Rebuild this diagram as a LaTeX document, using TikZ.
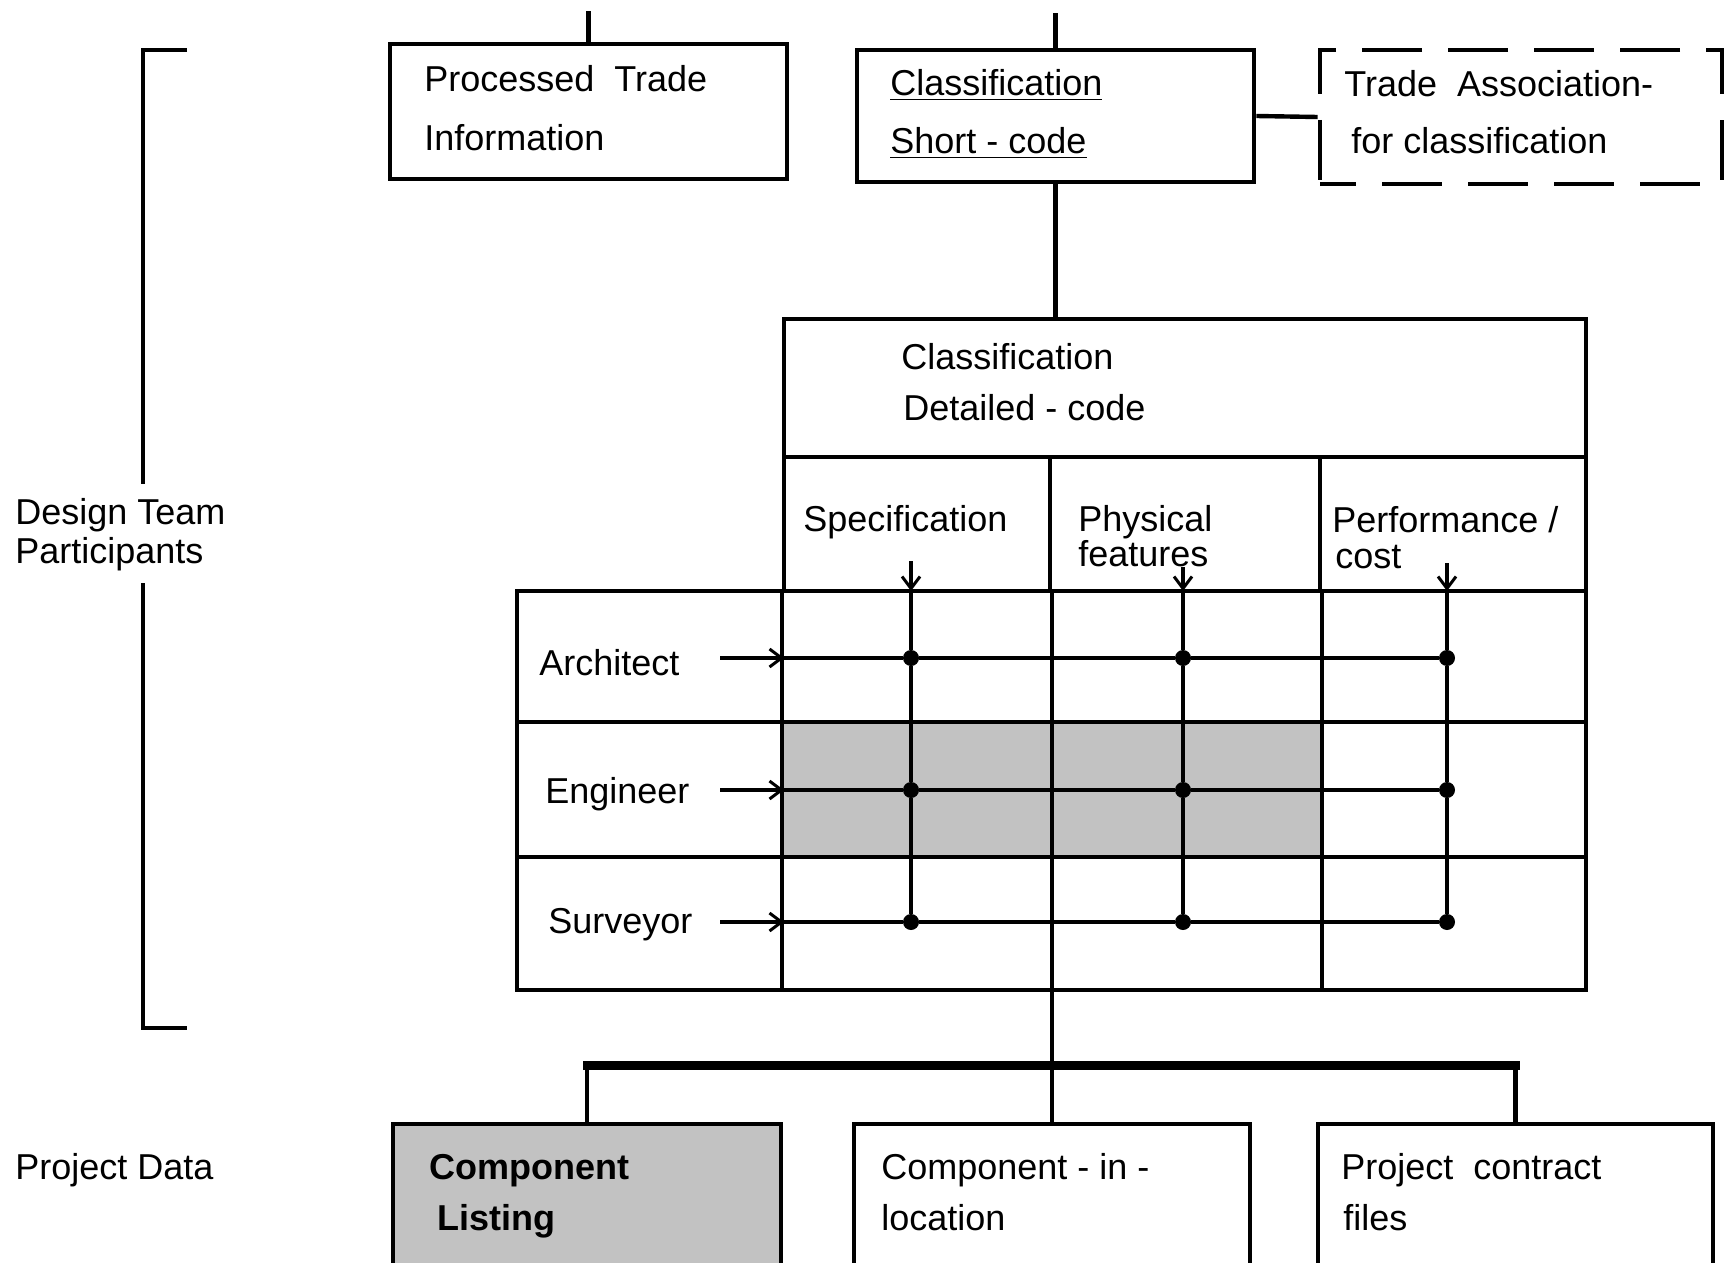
\documentclass[tikz,border=0pt]{standalone}
\usepackage{fontspec}
\setmainfont{Liberation Sans}
\usetikzlibrary{fit,arrows.meta}
\begin{document}
\begin{tikzpicture}[x=0.5pt,y=-0.5pt,
  box/.style={draw, line width=2.3pt, inner sep=0pt},
  dbox/.style={draw, line width=2.3pt, inner sep=0pt, dash pattern=on 30pt off 13pt, dash phase=12pt},
  lbl/.style={anchor=base west, inner sep=0pt, font=\fontsize{18}{20}\selectfont},
  blbl/.style={lbl, font=\fontsize{18}{20}\selectfont\bfseries},
  grid/.style={line width=2pt},
  conn/.style={line width=2.2pt},
  bus/.style={line width=4.5pt, line cap=rect},
  flow/.style={line width=1.6pt},
  flowb/.style={line width=2.4pt},
  arr/.style={line width=1.6pt, -{Straight Barb[length=6pt,width=9pt,line width=1.5pt]}},
  dot/.style={circle, fill=black, inner sep=0pt, minimum size=8pt},
  shadefill/.style={fill=black!24},
  brk/.style={line width=1.6pt}
]
\useasboundingbox (0,0) rectangle (1725,1263);
\clip (0,0) rectangle (1725,1263);
\fill[white] (0,0) rectangle (1725,1263);

% shaded region of the matrix
\fill[shadefill] (784,722) rectangle (1320,857);

% top boxes
\node[box, fit={(390,44)(787,179)}] (pti) {};
\node[box, fit={(857,50)(1254,182)}] (csc) {};
\node[dbox, fit={(1320,50)(1722,184)}] (ta) {};

% classification detailed-code box and column heads
\node[box, fit={(784,319)(1586,457)}] (hdr) {};
\node[box, fit={(784,457)(1050,591)}] (spec) {};
\node[box, fit={(1050,457)(1320,591)}] (phys) {};
\node[box, fit={(1320,457)(1586,591)}] (perf) {};

% rows
\node[box, fit={(517,591)(1586,722)}] (arch) {};
\node[box, fit={(517,722)(1586,857)}] (eng) {};
\node[box, fit={(517,857)(1586,990)}] (surv) {};

% column dividers through the rows
\draw[grid] (spec.south west) -- (spec.south west |- surv.south);
\draw[grid] (spec.south east) -- (spec.south east |- surv.south);
\draw[grid] (phys.south east) -- (phys.south east |- surv.south);

% bottom boxes
\node[box, shadefill, fit={(393,1124)(781,1300)}] (cl) {};
\node[box, fit={(854,1124)(1250,1300)}] (cil) {};
\node[box, fit={(1318,1124)(1713,1300)}] (pcf) {};

% texts
\node[lbl] at (424,92) {Processed\ \ Trade};
\node[lbl] at (424,150) {Information};
\node[lbl] at (890,96) {\underline{Classification}};
\node[lbl] at (890,154) {\underline{Short - code}};
\node[lbl] at (1344,97) {Trade\ \ Association-};
\node[lbl] at (1351,154) {for classification};
\node[lbl] at (901,369) {Classification};
\node[lbl] at (903,420) {Detailed - code};
\node[lbl] at (803,531) {Specification};
\node[lbl] at (1078,531) {Physical};
\node[lbl] at (1078,566) {features};
\node[lbl] at (1332,532) {Performance /};
\node[lbl] at (1335,568) {cost};
\node[lbl] at (539,675) {Architect};
\node[lbl] at (545,803) {Engineer};
\node[lbl] at (548,933) {Surveyor};
\node[lbl] at (15,524) {Design Team};
\node[lbl] at (15,563) {Participants};
\node[lbl] at (15,1179) {Project Data};
\node[blbl] at (429,1179) {Component};
\node[blbl] at (437,1230) {Listing};
\node[lbl] at (881,1179) {Component - in -};
\node[lbl] at (881,1230) {location};
\node[lbl] at (1341,1179) {Project\ \ contract};
\node[lbl] at (1343,1230) {files};

% bracket
\draw[brk] (187,50) -- (143,50) -- (143,484);
\draw[brk] (143,583) -- (143,1028) -- (187,1028);

% top connectors
\coordinate (ptitop) at (588.5,11);
\coordinate (csctop) at (1055.5,13);
\draw[conn] (pti.north) -- (ptitop);
\draw[conn] (csc.north) -- (csctop);
\draw[conn] (csc.south) -- (csc.south |- hdr.north);
\draw[conn] (csc.east) -- (ta.west);

% matrix dots
\foreach \r/\y in {1/658,2/790,3/922}{
  \foreach \c/\x in {1/911,2/1183,3/1447}{
    \node[dot] (d\r\c) at (\x,\y) {};
  }
}
% row inputs
\coordinate (in1) at (720,658); \coordinate (e1) at (784,658);
\coordinate (in2) at (720,790); \coordinate (e2) at (784,790);
\coordinate (in3) at (720,922); \coordinate (e3) at (784,922);
\draw[arr] (in1) -- (e1);
\draw[arr] (in2) -- (e2);
\draw[arr] (in3) -- (e3);
\draw[flow] (e1) -- (d11) -- (d12) -- (d13);
\draw[flowb] (e2) -- (d21) -- (d22) -- (d23);
\draw[flow] (e3) -- (d31) -- (d32) -- (d33);
% column inputs
\coordinate (t1) at (911,561); \coordinate (b1) at (911,591);
\coordinate (t2) at (1183,567); \coordinate (b2) at (1183,591);
\coordinate (t3) at (1447,563); \coordinate (b3) at (1447,591);
\draw[arr] (t1) -- (b1);
\draw[arr] (t2) -- (b2);
\draw[arr] (t3) -- (b3);
\draw[flow] (b1) -- (d11) -- (d21) -- (d31);
\draw[flow] (b2) -- (d12) -- (d22) -- (d32);
\draw[flow] (b3) -- (d13) -- (d23) -- (d33);

% bottom distribution
\coordinate (busl) at (cl.north |- 0,1065);
\coordinate (busr) at (pcf.north |- 0,1065);
\draw[conn] (cil.north |- surv.south) -- (cil.north);
\draw[bus] (busl) -- (busr);
\draw[conn] (busl) -- (cl.north);
\draw[conn] (busr) -- (pcf.north);
\end{tikzpicture}
\end{document}
